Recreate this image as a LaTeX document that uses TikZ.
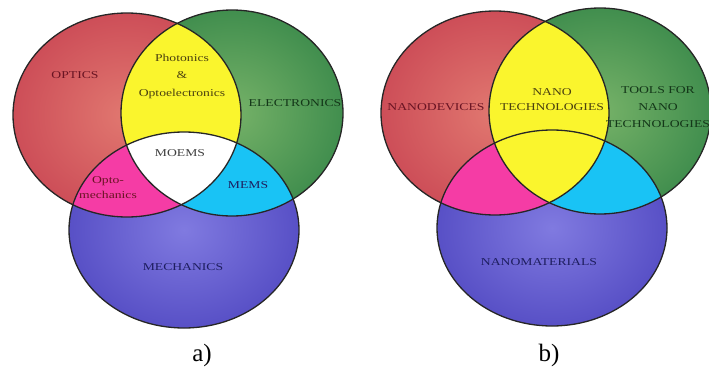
\documentclass[tikz,border=0pt]{standalone}
\usepackage{fontspec}
\setmainfont{Liberation Serif}
\newfontfamily\vennfont[FakeStretch=1.3]{Liberation Serif}

\definecolor{redin}{RGB}{225,120,112}
\definecolor{redout}{RGB}{205,78,88}
\definecolor{greenin}{RGB}{118,178,104}
\definecolor{greenout}{RGB}{65,142,78}
\definecolor{bluein}{RGB}{128,122,224}
\definecolor{blueout}{RGB}{88,80,198}
\definecolor{yellowset}{RGB}{250,245,45}
\definecolor{pinkset}{RGB}{245,60,165}
\definecolor{cyanset}{RGB}{25,195,245}
\definecolor{redtext}{RGB}{105,20,35}
\definecolor{greentext}{RGB}{20,55,25}
\definecolor{bluetext}{RGB}{30,30,95}
\definecolor{yellowtext}{RGB}{75,65,15}

% the three sets, in picture units (1pt = 1px)
\newcommand{\vennL}{(127,115) ellipse [x radius=114pt, y radius=102pt]}
\newcommand{\vennR}{(232,113) ellipse [x radius=111pt, y radius=103pt]}
\newcommand{\vennB}{(184,230) ellipse [x radius=115pt, y radius=98pt]}

\begin{document}
\begin{tikzpicture}[
        x=1pt, y=-1pt,
        setlabel/.style={font=\vennfont\fontsize{10.5}{15}\selectfont, align=center, inner sep=0pt},
        outline/.style={draw=black!85, line width=1.3pt},
        redfill/.style={inner color=redin, outer color=redout},
        greenfill/.style={inner color=greenin, outer color=greenout},
        bluefill/.style={inner color=bluein, outer color=blueout},
        caption/.style={font=\fontsize{25}{28}\selectfont, inner sep=0pt}
    ]
    \useasboundingbox (0,0) rectangle (709,372);

    % --- a) MOEMS ---
    \fill[redfill] \vennL;
    \fill[greenfill] \vennR;
    \fill[bluefill] \vennB;
    \begin{scope}
        \clip \vennL;
        \fill[yellowset] \vennR;
        \fill[pinkset] \vennB;
    \end{scope}
    \begin{scope}
        \clip \vennR;
        \fill[cyanset] \vennB;
    \end{scope}
    \begin{scope}
        \clip \vennL; \clip \vennR;
        \fill[white] \vennB;
    \end{scope}
    \draw[outline] \vennL;
    \draw[outline] \vennR;
    \draw[outline] \vennB;

    \node[setlabel, text=redtext] (optics) at (75,75) {OPTICS};
    \node[setlabel, text=greentext] (electronics) at (295,103) {ELECTRONICS};
    \node[setlabel, text=bluetext] (mechanics) at (183,267) {MECHANICS};
    \node[setlabel, text=yellowtext, font=\vennfont\fontsize{10.5}{17.5}\selectfont] (photonics) at (182,76) {Photonics\\\&\\Optoelectronics};
    \node[setlabel, text=black!75] (moems) at (180,153) {MOEMS};
    \node[setlabel, text=redtext] (optomech) at (108,188) {Opto-\\mechanics};
    \node[setlabel, text=bluetext] (mems) at (248,185) {MEMS};
    \node[caption] (capa) at (202,355) {a)};

    % --- b) nanotechnologies ---
    \begin{scope}[xshift=368pt, yshift=2pt]
        \fill[redfill] \vennL;
        \fill[greenfill] \vennR;
        \fill[bluefill] \vennB;
        \begin{scope}
            \clip \vennL;
            \fill[pinkset] \vennB;
        \end{scope}
        \begin{scope}
            \clip \vennR;
            \fill[cyanset] \vennB;
        \end{scope}
        \begin{scope}
            \clip \vennL;
            \fill[yellowset] \vennR;
        \end{scope}
        \draw[outline] \vennL;
        \draw[outline] \vennR;
        \draw[outline] \vennB;
    \end{scope}

    \node[setlabel, text=redtext] (nanodev) at (436,107) {NANODEVICES};
    \node[setlabel, text=yellowtext] (nanotech) at (552,100) {NANO\\TECHNOLOGIES};
    \node[setlabel, text=greentext, font=\vennfont\fontsize{10.5}{17}\selectfont] (nanotools) at (658,107) {TOOLS FOR\\NANO\\TECHNOLOGIES};
    \node[setlabel, text=bluetext] (nanomat) at (539,262) {NANOMATERIALS};
    \node[caption] (capb) at (549,355) {b)};

\end{tikzpicture}
\end{document}
